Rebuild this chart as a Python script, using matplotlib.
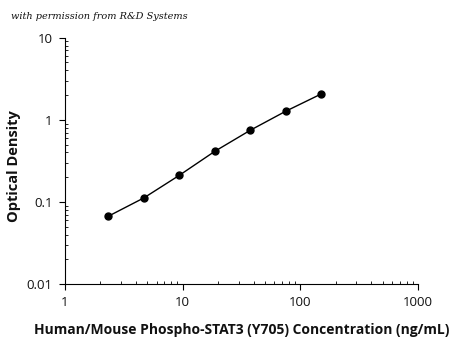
import matplotlib
matplotlib.use("Agg")
import matplotlib.pyplot as plt

# ==========================================
# DATA
# ==========================================

concentration = [2.34, 4.69, 9.38, 18.75, 37.5, 75, 150]
optical_density = [0.067, 0.112, 0.211, 0.413, 0.745, 1.27, 2.06]

x_ticks = [1, 10, 100, 1000]
x_tick_labels = ["1", "10", "100", "1000"]
y_ticks = [0.01, 0.1, 1, 10]
y_tick_labels = ["0.01", "0.1", "1", "10"]

FONT = "Open Sans"
TEXT = "#111111"

# ==========================================
# CHART
# ==========================================

fig = plt.figure(figsize=(4.5, 3.41), dpi=100, facecolor="white")
ax = fig.add_axes([0.1444, 0.1672, 0.7845, 0.7222])

ax.plot(
    concentration,
    optical_density,
    color="black",
    linewidth=1,
    marker="o",
    markersize=5,
)

ax.set_xscale("log")
ax.set_yscale("log")
ax.set_xlim(1, 1000)
ax.set_ylim(0.01, 10)

ax.set_xticks(x_ticks)
ax.set_xticklabels(x_tick_labels, fontfamily=FONT, fontsize=9.5, color=TEXT)
ax.set_yticks(y_ticks)
ax.set_yticklabels(y_tick_labels, fontfamily=FONT, fontsize=9.5, color=TEXT)

ax.tick_params(which="major", direction="out", length=4, width=0.8, pad=5)
ax.tick_params(which="minor", direction="in", length=2.5, width=0.6)

ax.spines["top"].set_visible(False)
ax.spines["right"].set_visible(False)
ax.spines["left"].set_linewidth(0.8)
ax.spines["bottom"].set_linewidth(0.8)

# ==========================================
# TITLES
# ==========================================

ax.set_xlabel(
    "Human/Mouse Phospho-STAT3 (Y705) Concentration (ng/mL)",
    fontfamily=FONT,
    fontsize=10,
    fontweight="bold",
    color=TEXT,
    labelpad=10,
)
ax.set_ylabel(
    "Optical Density",
    fontfamily=FONT,
    fontsize=10.5,
    fontweight="bold",
    color=TEXT,
    labelpad=7,
)
ax.yaxis.set_label_coords(-0.125, 0.48)

fig.text(
    0.025,
    0.952,
    "with permission from R&D Systems",
    fontfamily="DejaVu Serif",
    fontstyle="italic",
    fontsize=7,
    color=TEXT,
    va="center",
)

fig.savefig("out.png", dpi=100, facecolor="white")
plt.close()
